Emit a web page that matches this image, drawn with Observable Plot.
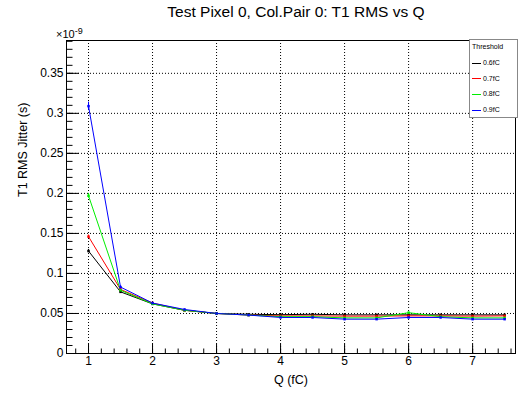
<!DOCTYPE html>
<html>
<head>
<meta charset="utf-8">
<script src="https://cdn.jsdelivr.net/npm/d3@7"></script>
<script src="https://cdn.jsdelivr.net/npm/@observablehq/plot@0.6"></script>
<style>
  body { margin: 0; background: #fff; }
  #wrap { position: relative; width: 520px; height: 394px; font-family: "Liberation Sans", Arial, sans-serif; }
  #title { position: absolute; left: 0; width: 592px; top: 2px; text-align: center; font-size: 15.5px; line-height: 20px; color: #000; }
  #exp { position: absolute; left: 56px; top: 26px; font-size: 11px; }
  #exp sup { font-size: 9px; vertical-align: 4px; }
  #legend { position: absolute; left: 469px; top: 39px; width: 49px; height: 79px; border: 1px solid #888; background: #fff; font-size: 7px; box-sizing: border-box; }
  .row { position: absolute; left: 2px; height: 8px; line-height: 8px; }
  .sw { display: inline-block; width: 9px; height: 0; border-top: 1px solid; vertical-align: middle; margin-right: 2px; }
</style>
</head>
<body>
<div id="wrap"></div>
<script>
const titleText = "Test Pixel 0, Col.Pair 0: T1 RMS vs Q";
const xLabel = "Q (fC)";
const yLabel = "T1 RMS Jitter (s)";
const legendTitle = "Threshold";
const seriesNames = ["0.6fC", "0.7fC", "0.8fC", "0.9fC"];
const seriesColors = ["#000000", "#ff0000", "#00ee00", "#0000ff"];

const q = [1, 1.5, 2, 2.5, 3, 3.5, 4, 4.5, 5, 5.5, 6, 6.5, 7, 7.5];
const t06 = [0.128, 0.077, 0.062, 0.054, 0.050, 0.049, 0.0485, 0.049, 0.0483, 0.0483, 0.0483, 0.0483, 0.0483, 0.0483];
const t07 = [0.146, 0.080, 0.063, 0.054, 0.050, 0.048, 0.047, 0.047, 0.0467, 0.0467, 0.047, 0.047, 0.0467, 0.047];
const t08 = [0.197, 0.079, 0.062, 0.054, 0.050, 0.048, 0.046, 0.046, 0.0445, 0.0445, 0.051, 0.046, 0.0445, 0.0445];
const t09 = [0.309, 0.083, 0.063, 0.055, 0.050, 0.048, 0.045, 0.045, 0.0429, 0.0429, 0.045, 0.045, 0.0429, 0.0429];
const err06 = [0.002, 0.001, 0.001, 0.0005, 0.0005, 0.0005, 0.0005, 0.0005, 0.0005, 0.0005, 0.0005, 0.0005, 0.0005, 0.0005];
const err07 = [0.002, 0.001, 0.001, 0.0005, 0.0005, 0.0005, 0.0005, 0.0005, 0.0005, 0.0005, 0.0005, 0.0005, 0.0005, 0.0005];
const err08 = [0.003, 0.001, 0.001, 0.0005, 0.0005, 0.0005, 0.0005, 0.0005, 0.0005, 0.0005, 0.0005, 0.0005, 0.0005, 0.0005];
const err09 = [0.005, 0.0015, 0.001, 0.0005, 0.0005, 0.0005, 0.0005, 0.0005, 0.0005, 0.0005, 0.0005, 0.0005, 0.0005, 0.0005];

const xMajor = [1, 2, 3, 4, 5, 6, 7];
const yMajor = [0, 0.05, 0.1, 0.15, 0.2, 0.25, 0.3, 0.35];
const xDomain = [0.656, 7.67];
const yDomain = [0, 0.391];

const W = 520, H = 394;
const mL = 66, mR = 5, mT = 40, mB = 41;
const frameW = W - mL - mR, frameH = H - mT - mB;

const allY = [t06, t07, t08, t09];
const allE = [err06, err07, err08, err09];
const data = [];
seriesNames.forEach((s, k) => q.forEach((x, i) => data.push({series: s, q: x, v: allY[k][i], e: allE[k][i]})));

const xMinor = d3.range(Math.ceil(xDomain[0] * 5) / 5, xDomain[1], 0.2).map(d => Math.round(d * 10) / 10);
const yMinor = d3.range(0, yDomain[1], 0.01).map(d => Math.round(d * 100) / 100);

const color = {domain: seriesNames, range: seriesColors};

const plot = Plot.plot({
  width: W, height: H,
  marginLeft: mL, marginRight: mR, marginTop: mT, marginBottom: mB,
  style: {fontFamily: "Liberation Sans, Arial, sans-serif", fontSize: "12px", color: "#000", background: "#fff"},
  x: {domain: xDomain},
  y: {domain: yDomain},
  color: color,
  marks: [
    Plot.gridX(xMajor, {stroke: "#000", strokeOpacity: 1, strokeDasharray: "1,2"}),
    Plot.gridY(yMajor.filter(d => d > 0), {stroke: "#000", strokeOpacity: 1, strokeDasharray: "1,2"}),
    Plot.frame({stroke: "#000"}),
    Plot.ruleX(xMajor, {x: d => d, insetTop: frameH - 9, stroke: "#000"}),
    Plot.ruleX(xMinor, {x: d => d, insetTop: frameH - 4.5, stroke: "#000"}),
    Plot.ruleY(yMajor, {y: d => d, insetRight: frameW - 13, stroke: "#000"}),
    Plot.ruleY(yMinor, {y: d => d, insetRight: frameW - 6.5, stroke: "#000"}),
    Plot.axisX(xMajor, {tickSize: 0, tickPadding: 3, label: null, fontSize: 12}),
    Plot.axisY(yMajor, {tickSize: 0, tickPadding: 3, label: null, fontSize: 12, tickFormat: d => d === 0 ? "0" : String(d)}),
    Plot.text([xLabel], {frameAnchor: "bottom", dy: 30, fontSize: 12.5}),
    Plot.text([yLabel], {frameAnchor: "left", rotate: -90, dx: -44, fontSize: 12.5}),
    Plot.line(data, {x: "q", y: "v", z: "series", stroke: "series", strokeWidth: 1}),
    Plot.ruleX(data, {x: "q", y1: d => d.v - d.e, y2: d => d.v + d.e, stroke: "series"}),
    Plot.dot(data, {x: "q", y: "v", fill: "series", symbol: "square", r: 1.4, stroke: null})
  ]
});

const wrap = document.getElementById("wrap");
wrap.appendChild(plot);

const t = document.createElement("div");
t.id = "title"; t.textContent = titleText; wrap.appendChild(t);

const ex = document.createElement("div");
ex.id = "exp"; ex.innerHTML = "×10<sup>-9</sup>"; wrap.appendChild(ex);

const lg = document.createElement("div");
lg.id = "legend";
const lt = document.createElement("div");
lt.className = "row"; lt.style.top = "3px"; lt.textContent = legendTitle; lg.appendChild(lt);
seriesNames.forEach((s, i) => {
  const r = document.createElement("div");
  r.className = "row"; r.style.top = (19 + i * 15.7) + "px";
  r.innerHTML = `<span class="sw" style="border-color:${seriesColors[i]}"></span>${s}`;
  lg.appendChild(r);
});
wrap.appendChild(lg);
</script>
</body>
</html>
